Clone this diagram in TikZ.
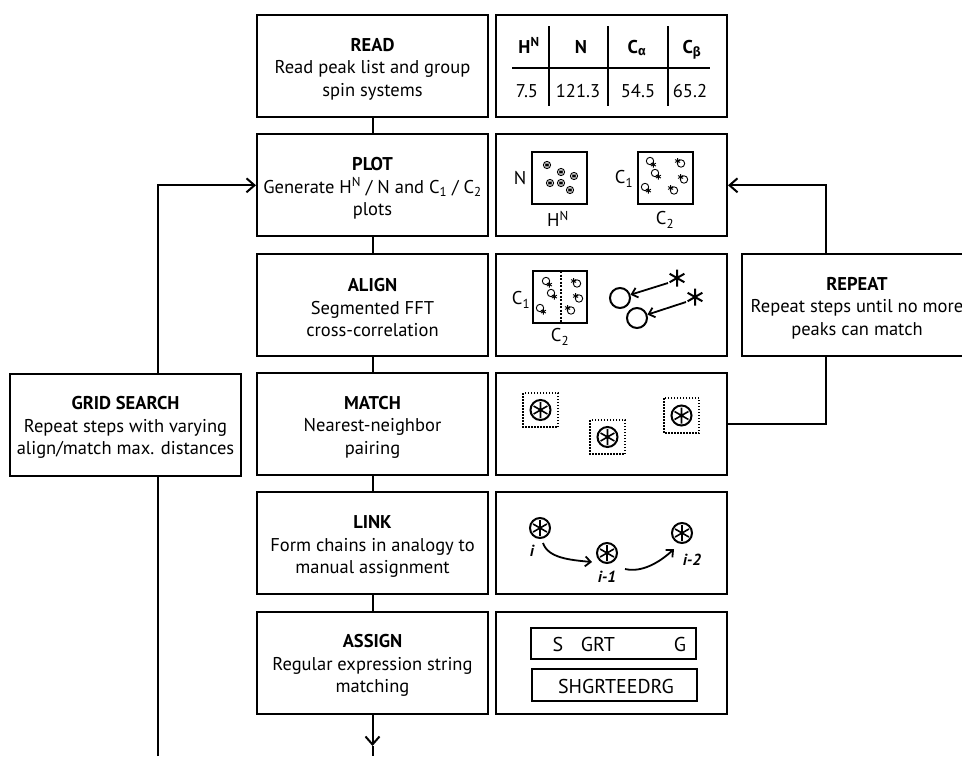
\documentclass[tikz,border=0pt]{standalone}
\usepackage{fontspec}
\setmainfont{PT Sans}
\newfontfamily\greekfont{Fira Sans}
\usetikzlibrary{arrows.meta,calc}
\newcommand\astk[1]{\draw (90:#1)--(270:#1) (30:#1)--(210:#1) (150:#1)--(330:#1);}
\newcommand\pkA[2]{\begin{scope}[shift={(#1,#2)},line width=0.9pt]\draw (0,0) circle (3.6);\astk{2.5}\end{scope}}
\newcommand\pkQ[2]{\begin{scope}[shift={(#1,#2)},line width=0.9pt]\draw (-1,-1) circle (3.7);\begin{scope}[shift={(2.4,2.6)}]\astk{2.9}\end{scope}\end{scope}}
\newcommand\pkS[2]{\begin{scope}[shift={(#1,#2)},line width=0.9pt]\draw (1,0.5) circle (3.7);\begin{scope}[shift={(-2.4,-2)}]\astk{2.9}\end{scope}\end{scope}}
\newcommand\boast[2]{\begin{scope}[shift={(#1,#2)}]\draw[line width=2pt] (0,0) circle (10);\begin{scope}[line width=1.6pt]\astk{8}\end{scope}\end{scope}}
\newcommand\lift{\rule{0pt}{19.5pt}}
\begin{document}
\begin{tikzpicture}[x=1pt,y=-1pt,
  every node/.style={font=\fontsize{18.5}{22.5}\selectfont},
  box/.style={draw,line width=2pt,minimum width=231pt,minimum height=102pt,align=center,inner sep=0pt},
  conn/.style={line width=2pt},
  arr/.style={conn,-{Straight Barb[length=8pt,width=14pt,line width=2pt]}},
  sarr/.style={line width=1.8pt,-{Straight Barb[length=5.5pt,width=10pt,line width=1.8pt]}},
  frame/.style={line width=2pt},
  lbl/.style={inner sep=0pt},
  big/.style={font=\fontsize{20}{22}\selectfont,inner sep=0pt},
  ital/.style={font=\fontsize{16}{18}\selectfont\bfseries\itshape,inner sep=0pt}]
\useasboundingbox (0,0) rectangle (962,756);
% left column
\node[box] (read) at (372.5,66) {\lift\textbf{READ}\\Read peak list and group\\spin systems};
\node[box] (plot) at (372.5,185.3) {\lift\textbf{PLOT}\\Generate H\textsuperscript{N} / N and C\textsubscript{1} / C\textsubscript{2}\\plots};
\node[box] (align) at (372.5,304.6) {\lift\textbf{ALIGN}\\Segmented FFT\\cross-correlation};
\node[box] (match) at (372.5,424) {\lift\textbf{MATCH}\\Nearest-neighbor\\pairing};
\node[box] (link) at (372.5,543.3) {\lift\textbf{LINK}\\Form chains in analogy to\\manual assignment};
\node[box] (assign) at (372.5,662.6) {\lift\textbf{ASSIGN}\\Regular expression string\\matching};
% right column
\node[box] (readr) at (611.5,66) {};
\node[box] (plotr) at (611.5,185.3) {};
\node[box] (alignr) at (611.5,304.6) {};
\node[box] (matchr) at (611.5,424) {};
\node[box] (linkr) at (611.5,543.3) {};
\node[box] (assignr) at (611.5,662.6) {};
% side boxes
\node[box] (grid) at (125.5,424.5) {\lift\textbf{GRID SEARCH}\\Repeat steps with varying\\align/match max. distances};
\node[box] (repeat) at (857,304.6) {\lift\textbf{REPEAT}\\Repeat steps until no more\\peaks can match};
% main connectors
\draw[conn] (read) -- (plot);
\draw[conn] (plot) -- (align);
\draw[conn] (align) -- (match);
\draw[conn] (match) -- (link);
\draw[conn] (link) -- (assign);
\coordinate (outtip) at (372.5,746);
\coordinate (outend) at (372.5,756);
\draw[arr] (assign) -- (outtip);
\draw[conn] (outtip) -- (outend);
% grid search loop
\coordinate (gx) at (158,756);
\draw[conn] (gx) -- (gx |- grid.south);
\draw[arr] (gx |- grid.north) -- (gx |- plot.west) -- (plot.west);
% repeat loop
\coordinate (rx) at (826,0);
\draw[arr] (rx |- repeat.north) -- (rx |- plotr.east) -- (plotr.east);
\draw[conn] (rx |- repeat.south) -- (rx |- matchr.east) -- (matchr.east);
% table
\draw[frame] (549,26) -- (549,106) (608,26) -- (608,106) (668,26) -- (668,106);
\draw[frame] (512,68) -- (710,68);
\node[lbl,anchor=base] (h1) at (529,53) {\textbf{H\textsuperscript{N}}};
\node[lbl,anchor=base] (h2) at (581,53) {\textbf{N}};
\node[lbl,anchor=base] (h3) at (637,53) {\textbf{C\textsubscript{\greekfont α}}};
\node[lbl,anchor=base] (h4) at (692,53) {\textbf{C\textsubscript{\greekfont β}}};
\node[lbl,anchor=base] (v1) at (527,97) {7.5};
\node[lbl,anchor=base] (v2) at (578,97) {121.3};
\node[lbl,anchor=base] (v3) at (638,97) {54.5};
\node[lbl,anchor=base] (v4) at (690,97) {65.2};
% plot icons
\draw[frame] (532,152) rectangle (587,204);
\draw[frame] (638,152) rectangle (693,204);
\node[lbl] (pn) at (520,178) {N};
\node[lbl] (phn) at (558,219) {H\textsuperscript{N}};
\node[lbl] (pc1) at (624,179) {C\textsubscript{1}};
\node[lbl] (pc2) at (665,220) {C\textsubscript{2}};
\pkA{547}{165}\pkA{561}{172}\pkA{574}{176}\pkA{550}{183}\pkA{561}{183}\pkA{570}{190}
\pkQ{651}{162}\pkQ{656}{174}\pkQ{646}{188}
\pkS{680}{163}\pkS{683}{179}\pkS{673}{190}
% align icons
\draw[frame] (533,271) rectangle (587,323);
\draw[line width=1.4pt,dash pattern=on 2pt off 1.5pt] (561,271) -- (561,323);
\node[lbl] (ac1) at (521,300) {C\textsubscript{1}};
\node[lbl] (ac2) at (560,337) {C\textsubscript{2}};
\pkQ{547}{282}\pkQ{552}{294}\pkQ{541}{309}
\pkS{576}{283}\pkS{578}{298}\pkS{570}{310}
\node[draw,circle,line width=2pt,minimum size=20pt,inner sep=0pt] (ca) at (620,298) {};
\node[draw,circle,line width=2pt,minimum size=20pt,inner sep=0pt] (cb) at (637,318) {};
\begin{scope}[shift={(677,278)},line width=2pt]\astk{8.5}\end{scope}
\begin{scope}[shift={(695,297)},line width=2pt]\astk{8.5}\end{scope}
\coordinate (sa) at (668,283);
\coordinate (sb) at (686,302);
\draw[sarr] (sa) -- (ca);
\draw[sarr] (sb) -- (cb);
% match icons
\draw[line width=1.5pt,dash pattern=on 1.5pt off 1.5pt] (523,393) rectangle (558,427);
\draw[line width=1.5pt,dash pattern=on 1.5pt off 1.5pt] (590,420) rectangle (625,454);
\draw[line width=1.5pt,dash pattern=on 1.5pt off 1.5pt] (664,398) rectangle (699,433);
\boast{540.5}{410}\boast{607.5}{437}\boast{681.5}{415.5}
% link icons
\boast{540}{528}\boast{607}{553}\boast{682}{533}
\node[ital] (li) at (532,551) {i};
\node[ital] (li1) at (607,577) {i-1};
\node[ital] (li2) at (692,560) {i-2};
\coordinate (l1s) at (543,543);
\coordinate (l1e) at (592,562);
\coordinate (l2s) at (625,569);
\coordinate (l2e) at (674,549);
\draw[sarr] (l1s) .. controls (548,558) and (570,560) .. (l1e);
\draw[sarr] (l2s) .. controls (642,573) and (660,562) .. (l2e);
% assign icons
\draw[frame] (531,628) rectangle (696,659);
\draw[frame] (532,669) rectangle (697,701);
\node[big] (s1) at (558,644) {S};
\node[big] (s2) at (598,644) {GRT};
\node[big] (s3) at (680,644) {G};
\node[big] (s4) at (616,686) {SHGRTEEDRG};
\end{tikzpicture}
\end{document}
